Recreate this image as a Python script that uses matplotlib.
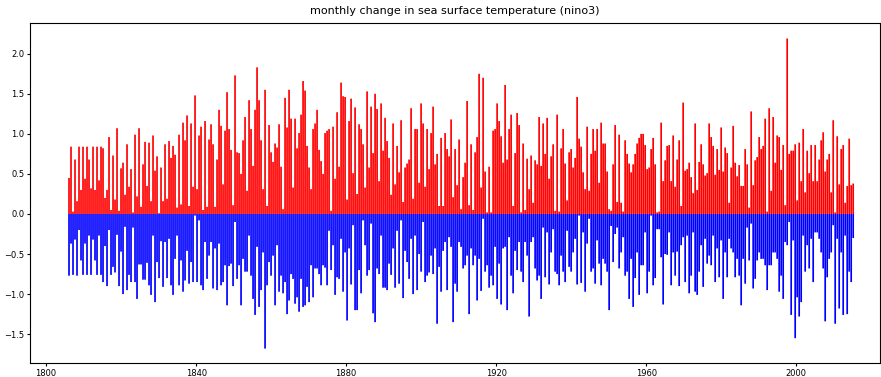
import numpy as np
import matplotlib
matplotlib.use("Agg")
import matplotlib.pyplot as plt

# monthly change, in hundredths of a degree
# one warm (up) and one cool (down) value for each ~half year slot
start_year = 1806.1
step = 0.5333

warm = [
    45, 84, 3, 68, 16, 84, 30, 84, 44, 84, 68, 32, 84, 30, 84, 42, 84, 82, 20, 30, 96, 5, 73, 18, 107, 4, 57, 64, 24, 87, 34, 56,
    2, 99, 22, 107, 9, 62, 90, 35, 89, 16, 98, 54, 72, 1, 58, 16, 87, 19, 91, 70, 85, 74, 8, 99, 12, 114, 92, 123, 10, 113, 34, 148, 31,
    98, 109, 5, 116, 9, 93, 112, 87, 9, 68, 130, 110, 37, 104, 152, 106, 80, 11, 173, 77, 76, 50, 92, 121, 29, 142, 106, 60, 130, 183, 142, 92, 31,
    155, 10, 111, 77, 65, 88, 83, 112, 59, 6, 145, 108, 155, 119, 33, 119, 82, 101, 124, 166, 154, 85, 58, 31, 106, 113, 130, 80, 66, 50, 101, 104, 106,
    4, 109, 44, 127, 59, 164, 147, 146, 18, 116, 144, 51, 133, 25, 112, 106, 87, 33, 153, 58, 134, 76, 150, 131, 41, 138, 79, 120, 91, 70, 24, 113, 37,
    85, 52, 117, 15, 58, 63, 68, 132, 19, 106, 106, 39, 138, 113, 34, 106, 56, 101, 134, 62, 75, 10, 95, 10, 101, 81, 72, 118, 21, 81, 36, 93, 6,
    46, 64, 141, 11, 87, 5, 77, 96, 175, 33, 170, 53, 2, 59, 2, 104, 106, 138, 116, 97,
    64, 161, 68, 106, 124, 10, 76, 126, 111, 2, 88, 5, 69, 31, 73, 14, 67, 62, 121, 60,
    113, 75, 120, 44, 72, 87, 4, 124, 3, 82, 106, 63, 17, 77, 81, 58, 70, 146, 94, 84,
    52, 31, 109, 29, 75, 106, 79, 106, 39, 114, 88, 88, 53, 6, 4, 62, 111, 15, 99, 14,
    3, 92, 75, 63, 52, 62, 75, 88, 95, 100, 100, 86, 56, 58, 81, 95, 62, 2, 3,
    114, 41, 67, 85, 86, 41, 98, 34, 68, 92, 10, 139, 54, 56, 64, 46, 26, 113, 30, 65,
    87, 62, 48, 51, 113, 96, 85, 49, 81, 55, 108, 53, 83, 76, 14, 58, 110, 64, 47, 61,
    35, 35, 81, 62, 8, 128, 36, 67, 71, 96, 81, 85, 119, 3, 132, 29, 121, 64, 98, 96,
    55, 86, 11, 219, 75, 79, 79, 87, 17, 89, 41, 106, 27, 79, 51, 86, 41, 86, 41, 68,
    92, 102, 53, 68, 75, 27, 117, 2, 97, 37, 81, 86, 14, 35, 94, 36, 38,
]

cool = [
    77, 37, 76, 32, 77, 20, 58, 76, 37, 76, 27, 76, 32, 58, 76, 27, 76, 85, 40, 90, 20, 76, 66, 73, 26, 90, 47, 100, 16, 95, 76, 85,
    17, 85, 106, 63, 63, 82, 82, 61, 89, 101, 27, 110, 60, 80, 34, 91, 35, 80, 31, 89, 101, 56, 27, 89, 58, 97, 83, 46, 87, 60, 85, 2, 85,
    8, 89, 95, 35, 81, 52, 35, 93, 43, 95, 37, 89, 85, 64, 114, 65, 62, 90, 10, 81, 64, 114, 56, 72, 72, 27, 77, 106, 126, 41, 116, 95, 48,
    168, 89, 60, 77, 52, 114, 39, 97, 77, 99, 85, 125, 108, 75, 81, 112, 104, 122, 81, 116, 114, 91, 110, 64, 104, 68, 68, 75, 89, 64, 67, 89, 21,
    70, 39, 101, 79, 81, 31, 97, 48, 133, 43, 88, 14, 120, 120, 70, 99, 8, 39, 77, 70, 12, 124, 135, 68, 75, 27, 92, 92, 95, 62, 76, 43, 92,
    21, 87, 8, 105, 46, 60, 81, 31, 100, 27, 95, 50, 72, 10, 85, 77, 73, 52, 75, 43, 137, 66, 97, 46, 35, 95, 29, 41, 135, 87, 97, 35, 41,
    68, 64, 52, 125, 43, 64, 52, 108, 56, 96, 6, 72, 64, 92, 77, 89, 41, 106, 62, 113,
    43, 41, 120, 29, 77, 99, 46, 70, 35, 72, 85, 35, 52, 128, 35, 29, 68, 83, 77, 106,
    17, 79, 23, 88, 48, 19, 72, 75, 89, 52, 72, 85, 21, 66, 72, 48, 31, 88, 2, 86,
    23, 97, 37, 6, 72, 68, 87, 33, 62, 89, 56, 62, 72, 120, 15, 60, 25, 17, 68, 48,
    29, 77, 72, 106, 56, 116, 80, 48, 101, 64, 64, 23, 99, 72, 2, 89, 80, 19, 19,
    54, 113, 50, 51, 23, 89, 48, 77, 47, 90, 39, 29, 85, 27, 99, 77, 23, 97, 101, 72,
    39, 91, 31, 62, 52, 64, 27, 85, 43, 79, 33, 106, 48, 79, 31, 43, 48, 79, 56, 77,
    114, 56, 87, 17, 58, 12, 93, 81, 58, 48, 56, 56, 64, 95, 64, 64, 48, 48, 56, 97,
    77, 106, 35, 39, 10, 126, 33, 155, 104, 128, 110, 27, 72, 39, 68, 31, 85, 23, 23, 31,
    48, 68, 134, 79, 56, 48, 14, 137, 31, 118, 48, 126, 27, 125, 72, 85, 30,
]

warm = np.array(warm) / 100.0
cool = -np.array(cool) / 100.0
years = start_year + np.arange(len(warm)) * step

fig = plt.figure(figsize=(8.81, 3.77), dpi=100)
ax = fig.add_subplot(111)
fig.subplots_adjust(left=30 / 881, right=880 / 881, bottom=14 / 377, top=354.5 / 377)

ax.bar(years, warm, width=0.85 * step, color='r', edgecolor='none', snap=False)
ax.bar(years, cool, width=0.85 * step, color='b', edgecolor='none', snap=False)

ax.set_xlim(1795.7, 2022.3)
ax.set_ylim(-1.86, 2.39)
ax.set_xticks(np.arange(1800, 2001, 40))
ax.set_yticks([-1.5, -1.0, -0.5, 0.0, 0.5, 1.0, 1.5, 2.0])
ax.tick_params(labelsize=6, length=2.5, pad=1.5)
ax.set_title('monthly change in sea surface temperature (nino3)', fontsize=8)

fig.savefig('out.png', dpi=100)
